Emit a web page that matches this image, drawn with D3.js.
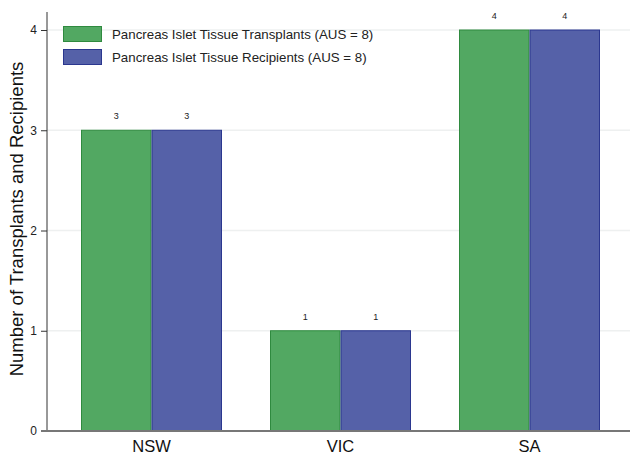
<!DOCTYPE html>
<html>
<head>
<meta charset="utf-8">
<script src="https://cdn.jsdelivr.net/npm/d3@7"></script>
<style>
  body { margin: 0; background: #fff; }
  text { font-family: "Liberation Sans", Arial, sans-serif; }
</style>
</head>
<body>
<div class="chart"></div>
<script>
// data
const states = ["NSW", "VIC", "SA"]
const transplants = [3, 1, 4]
const recipients = [3, 1, 4]
const seriesNames = ["Pancreas Islet Tissue Transplants (AUS = 8)", "Pancreas Islet Tissue Recipients (AUS = 8)"]
const yTicks = [0, 1, 2, 3, 4]

const fills = ["#52a862", "#5561a8"]
const strokes = ["#2f8a3f", "#2b378f"]

const width = 630, height = 455
const margin = {top: 12, right: 0, bottom: 24, left: 47}

const svg = d3.select(".chart").append("svg").attr("width", width).attr("height", height)

const x = d3.scaleBand().domain(states).range([57, 624]).paddingInner(0.254).paddingOuter(0.127)
const xSub = d3.scaleBand().domain([0, 1]).range([0, x.bandwidth()])
const y = d3.scaleLinear().domain([0, 4]).range([431, 30])

// gridlines
svg.append("g").selectAll("line").data(yTicks.slice(1)).enter().append("line")
   .attr("x1", margin.left).attr("x2", width)
   .attr("y1", d => y(d)).attr("y2", d => y(d))
   .attr("stroke", "#eef0f0").attr("stroke-width", 1.5)

// bars
const rows = states.map((s, i) => ({state: s, vals: [transplants[i], recipients[i]]}))
const groups = svg.selectAll(".grp").data(rows).enter().append("g")
   .attr("class", "grp").attr("transform", d => `translate(${x(d.state)},0)`)

groups.selectAll("rect").data(d => d.vals).enter().append("rect")
   .attr("x", (d, i) => xSub(i) + 0.5).attr("width", xSub.bandwidth() - 1)
   .attr("y", d => y(d)).attr("height", d => y(0) - y(d))
   .attr("fill", (d, i) => fills[i]).attr("stroke", (d, i) => strokes[i]).attr("stroke-width", 1)

groups.selectAll(".val").data(d => d.vals).enter().append("text")
   .attr("class", "val")
   .attr("x", (d, i) => xSub(i) + xSub.bandwidth() / 2)
   .attr("y", d => y(d) - 11)
   .attr("text-anchor", "middle").style("font-size", "9px").attr("fill", "#222")
   .text(d => d)

// y axis
const yAxis = svg.append("g").attr("transform", `translate(${margin.left},0)`)
   .call(d3.axisLeft(y).tickValues(yTicks).tickSize(6).tickPadding(4).tickFormat(d3.format("d")))
yAxis.select(".domain").remove()
yAxis.selectAll("line").attr("stroke", "#333")
yAxis.selectAll("text").style("font-size", "12px").attr("fill", "#222")
svg.append("line").attr("x1", margin.left).attr("x2", margin.left)
   .attr("y1", margin.top).attr("y2", y(0)).attr("stroke", "#333").attr("stroke-width", 1)

// x axis line
svg.append("line").attr("x1", 41).attr("x2", width).attr("y1", y(0)).attr("y2", y(0))
   .attr("stroke", "#777").attr("stroke-width", 2)

svg.append("g").selectAll("text").data(states).enter().append("text")
   .attr("x", d => x(d) + x.bandwidth() / 2).attr("y", 452)
   .attr("text-anchor", "middle").style("font-size", "16.5px").attr("fill", "#111")
   .text(d => d)

// y title
svg.append("text").attr("transform", "translate(23,219) rotate(-90)")
   .attr("text-anchor", "middle").style("font-size", "18.5px").attr("fill", "#111")
   .text("Number of Transplants and Recipients")

// legend
const legend = svg.selectAll(".legend").data(seriesNames).enter().append("g")
   .attr("class", "legend").attr("transform", (d, i) => `translate(63,${26 + i * 23})`)
legend.append("rect").attr("x", 0.5).attr("y", 0.5).attr("width", 38).attr("height", 15)
   .attr("fill", (d, i) => fills[i]).attr("stroke", (d, i) => strokes[i])
legend.append("text").attr("x", 49).attr("y", 12.5)
   .style("font-size", "13.3px").attr("fill", "#222").text(d => d)
</script>
</body>
</html>
